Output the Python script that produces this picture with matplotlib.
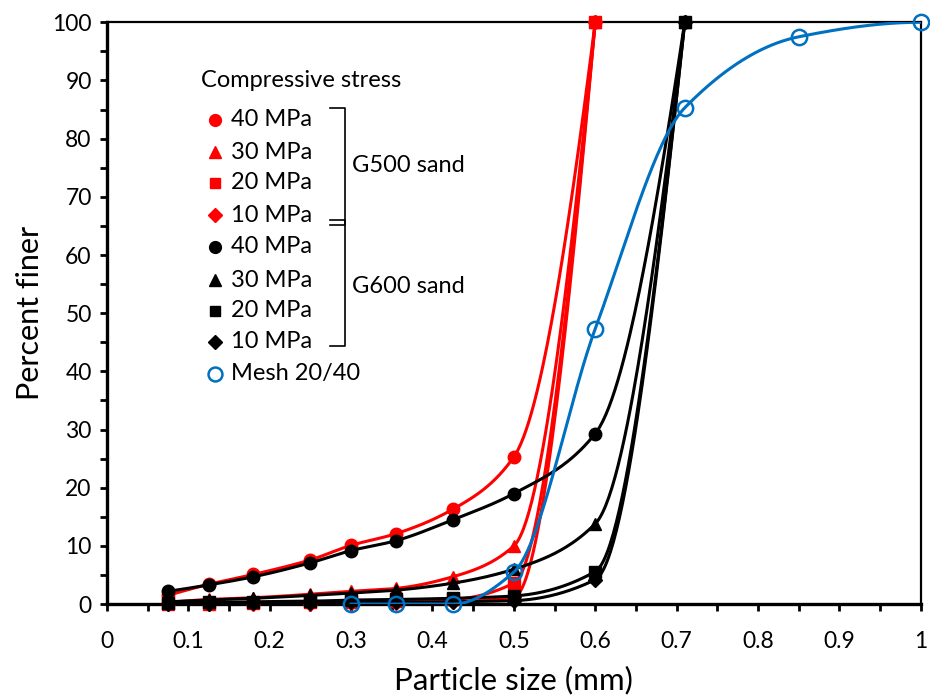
import numpy as np
import matplotlib
matplotlib.use("Agg")
import matplotlib.pyplot as plt
from matplotlib.lines import Line2D
from matplotlib.ticker import MultipleLocator, FuncFormatter

plt.rcParams['font.family'] = ['Lato', 'DejaVu Sans']

# sieve sizes (mm)
x_g500 = [0.075, 0.125, 0.18, 0.25, 0.3, 0.355, 0.425, 0.5, 0.6]
x_g600 = [0.075, 0.125, 0.18, 0.25, 0.3, 0.355, 0.425, 0.5, 0.6, 0.71]
x_mesh = [0.3, 0.355, 0.425, 0.5, 0.6, 0.71, 0.85, 1.0]

# percent finer
g500_40 = [1.5, 3.4, 5.1, 7.6, 10.1, 12.1, 16.3, 25.3, 100]
g500_30 = [0.3, 0.8, 1.1, 1.7, 2.2, 2.7, 4.7, 10.0, 100]
g500_20 = [0.1, 0.1, 0.2, 0.3, 0.4, 0.5, 0.8, 3.6, 100]
g500_10 = [0.0, 0.0, 0.1, 0.1, 0.2, 0.2, 0.4, 1.2, 100]
g600_40 = [2.2, 3.3, 4.7, 7.1, 9.2, 10.9, 14.5, 19.0, 29.3, 100]
g600_30 = [0.4, 0.7, 1.0, 1.5, 1.9, 2.4, 3.6, 6.0, 13.8, 100]
g600_20 = [0.2, 0.3, 0.4, 0.5, 0.7, 0.8, 1.0, 1.4, 5.6, 100]
g600_10 = [0.1, 0.1, 0.2, 0.2, 0.3, 0.3, 0.4, 0.6, 4.2, 100]
mesh_2040 = [0, 0, 0, 5.5, 47.3, 85.3, 97.5, 100]

stress_labels = ['40 MPa', '30 MPa', '20 MPa', '10 MPa']
markers = ['o', '^', 's', 'D']

RED = '#FF0000'
BLACK = '#000000'
BLUE = '#0070C0'


def pchip(x, y, n=60):
    """Shape-preserving cubic through the points (Fritsch-Carlson slopes)."""
    x = np.asarray(x, float)
    y = np.asarray(y, float)
    h = np.diff(x)
    delta = np.diff(y) / h
    m = len(x)
    d = np.zeros(m)
    for k in range(1, m - 1):
        if delta[k - 1] * delta[k] > 0:
            w1 = 2 * h[k] + h[k - 1]
            w2 = h[k] + 2 * h[k - 1]
            d[k] = (w1 + w2) / (w1 / delta[k - 1] + w2 / delta[k])

    def end_slope(h0, h1, d0, d1):
        s = ((2 * h0 + h1) * d0 - h0 * d1) / (h0 + h1)
        if np.sign(s) != np.sign(d0):
            return 0.0
        if np.sign(d0) != np.sign(d1) and abs(s) > abs(3 * d0):
            return 3 * d0
        return s

    d[0] = end_slope(h[0], h[1], delta[0], delta[1])
    d[-1] = end_slope(h[-1], h[-2], delta[-1], delta[-2])

    xs, ys = [x[0]], [y[0]]
    for k in range(m - 1):
        s = np.linspace(0, 1, n)[1:]
        h00 = 2 * s**3 - 3 * s**2 + 1
        h10 = s**3 - 2 * s**2 + s
        h01 = -2 * s**3 + 3 * s**2
        h11 = s**3 - s**2
        xs.extend(x[k] + s * h[k])
        ys.extend(h00 * y[k] + h10 * h[k] * d[k] + h01 * y[k + 1] + h11 * h[k] * d[k + 1])
    return np.array(xs), np.array(ys)


fig = plt.figure(figsize=(9.3, 6.96), dpi=100)
ax = fig.add_axes([0.115, 0.132, 0.875, 0.836])

series = [
    (x_g500, g500_40, RED, 'o'), (x_g500, g500_30, RED, '^'),
    (x_g500, g500_20, RED, 's'), (x_g500, g500_10, RED, 'D'),
    (x_g600, g600_40, BLACK, 'o'), (x_g600, g600_30, BLACK, '^'),
    (x_g600, g600_20, BLACK, 's'), (x_g600, g600_10, BLACK, 'D'),
]
z = 3
for xs, ys, c, mk in series:
    sx, sy = pchip(xs, ys)
    ax.plot(sx, sy, color=c, lw=2.2, zorder=z)
    ms = 7.5 if mk == 'D' else 9 if mk in ('o', '^') else 8
    ax.plot(xs, ys, ls='none', marker=mk, ms=ms, color=c, clip_on=False, zorder=z + 0.5)
    z += 1

sx, sy = pchip(x_mesh, mesh_2040)
ax.plot(sx, sy, color=BLUE, lw=2.2, zorder=z)
ax.plot(x_mesh, mesh_2040, ls='none', marker='o', ms=11, mfc='none', mec=BLUE,
        mew=1.8, clip_on=False, zorder=z + 0.5)

ax.set_xlim(0, 1)
ax.set_ylim(0, 100)
ax.xaxis.set_major_locator(MultipleLocator(0.1))
ax.xaxis.set_minor_locator(MultipleLocator(0.05))
ax.yaxis.set_major_locator(MultipleLocator(10))
ax.yaxis.set_minor_locator(MultipleLocator(5))
ax.xaxis.set_major_formatter(FuncFormatter(lambda v, p: f'{v:g}'))
ax.tick_params(which='both', direction='out', length=5, width=2, top=False, right=False)
ax.tick_params(which='major', labelsize=16.5)
ax.tick_params(axis='x', which='major', pad=14)
ax.tick_params(axis='y', which='major', pad=6)
for s in ('left', 'bottom'):
    ax.spines[s].set_linewidth(2.4)
for s in ('top', 'right'):
    ax.spines[s].set_linewidth(1.6)

ax.set_xlabel('Particle size (mm)', fontsize=22.5, labelpad=10)
ax.set_ylabel('Percent finer', fontsize=22, labelpad=6)

# legend drawn by hand, with brackets grouping the two sands
tr = ax.transAxes
fs = 17
ax.text(0.1155, 0.900, 'Compressive stress', transform=tr, fontsize=fs, va='center', ha='left')
rows = [0.8328, 0.777, 0.724, 0.668, 0.614, 0.557, 0.504, 0.451, 0.396]
colors = [RED] * 4 + [BLACK] * 4
for i in range(8):
    mk = markers[i % 4]
    ms = 7 if mk == 'D' else 8.5 if mk in ('o', '^') else 7.5
    ax.plot([0.1327], [rows[i]], transform=tr, ls='none', marker=mk, ms=ms, color=colors[i], clip_on=False)
    ax.text(0.152, rows[i], stress_labels[i % 4], transform=tr, fontsize=fs, va='center', ha='left')
ax.plot([0.1327], [rows[8]], transform=tr, ls='none', marker='o', ms=10, mfc='none',
        mec=BLUE, mew=1.8, clip_on=False)
ax.text(0.152, rows[8], 'Mesh 20/40', transform=tr, fontsize=fs, va='center', ha='left')

for top, bot in [(0.8528, 0.6512), (0.6598, 0.4433)]:
    ax.add_line(Line2D([0.274, 0.2924, 0.2924, 0.274], [top, top, bot, bot],
                       transform=tr, color='black', lw=1.2, clip_on=False))
ax.text(0.301, 0.7543, 'G500 sand', transform=tr, fontsize=fs, va='center', ha='left')
ax.text(0.301, 0.5452, 'G600 sand', transform=tr, fontsize=fs, va='center', ha='left')

fig.savefig('out.png', dpi=100)
